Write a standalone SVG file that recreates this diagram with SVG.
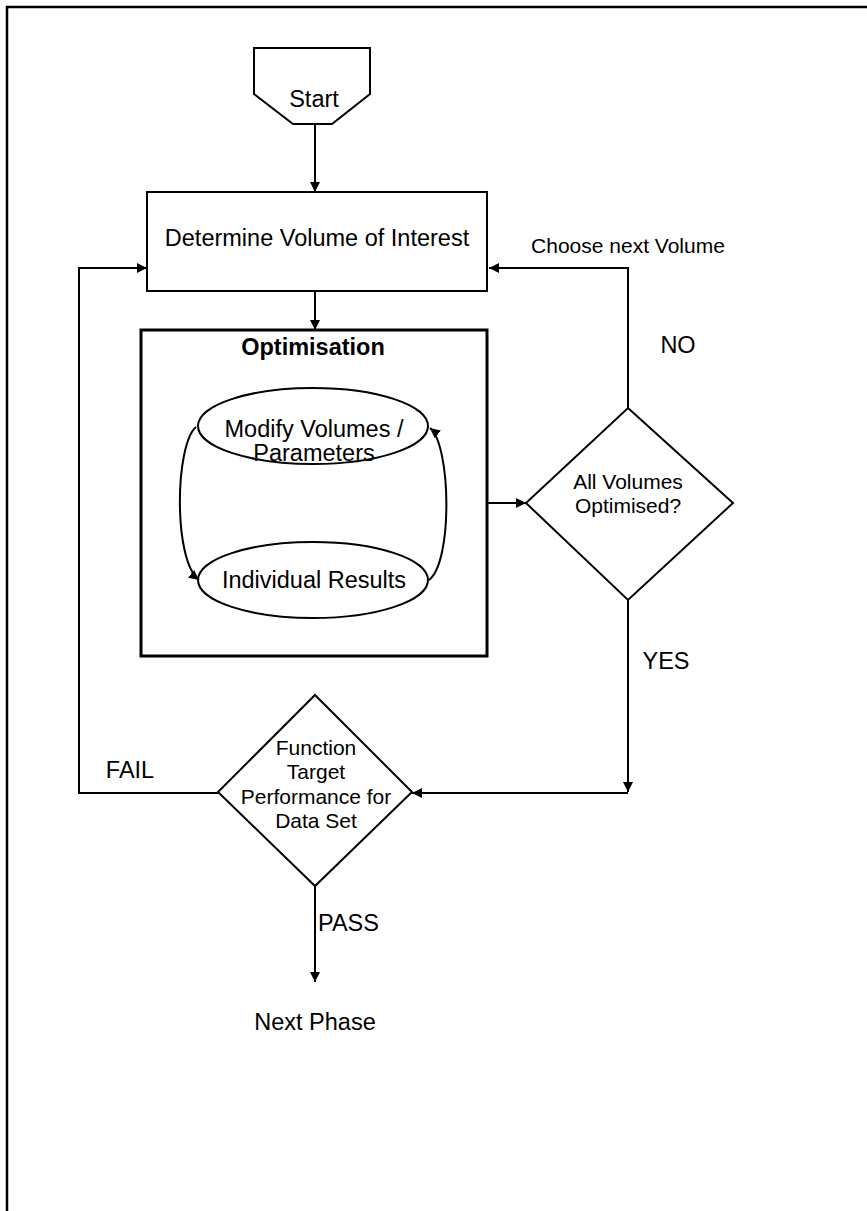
<svg xmlns="http://www.w3.org/2000/svg" width="867" height="1211" viewBox="0 0 867 1211">
<defs>
<marker id="ah" viewBox="0 0 10 10" refX="10" refY="5" markerWidth="10" markerHeight="10" markerUnits="userSpaceOnUse" orient="auto">
<path d="M0,0 L10,5 L0,10 Z" fill="#000"/>
</marker>
</defs>
<style>
.s{fill:#fff;stroke:#000;stroke-width:2}
.c{fill:none;stroke:#000;stroke-width:2;marker-end:url(#ah)}
text{font-family:"Liberation Sans",Arial,sans-serif;fill:#000;text-anchor:middle}
.b{font-size:23.5px}
.m{font-size:21px}
.st{text-anchor:start}
</style>
<rect width="867" height="1211" fill="#fff"/>
<path d="M7,1211 V7 H867" fill="none" stroke="#000" stroke-width="2.5"/>
<g id="start">
<path class="s" d="M254,48 H370 V94 L332,124 H293 L254,94 Z"/>
<text class="b" x="314" y="107">Start</text>
</g>
<g id="determine">
<rect class="s" x="147" y="192" width="340" height="99"/>
<text class="b" x="317" y="246">Determine Volume of Interest</text>
</g>
<g id="optimisation">
<rect x="141" y="330" width="346" height="326" fill="#fff" stroke="#000" stroke-width="3"/>
<text class="b" x="313" y="355" font-weight="bold">Optimisation</text>
</g>
<g id="modify">
<ellipse class="s" cx="313" cy="426" rx="115" ry="38"/>
<text class="b" x="314" y="437">Modify Volumes /</text>
<text class="b" x="314" y="461">Parameters</text>
</g>
<g id="results">
<ellipse class="s" cx="313" cy="580" rx="115" ry="38"/>
<text class="b" x="314" y="588">Individual Results</text>
</g>
<g id="allvolumes">
<path class="s" d="M628,408 L733,503 L628,600 L526,503 Z"/>
<text class="m" x="628" y="489">All Volumes</text>
<text class="m" x="628" y="513">Optimised?</text>
</g>
<g id="function">
<path class="s" d="M315,695 L412,792 L315,886 L218,792 Z"/>
<text class="m" x="316" y="755">Function</text>
<text class="m" x="316" y="779">Target</text>
<text class="m" x="316" y="804">Performance for</text>
<text class="m" x="316" y="828">Data Set</text>
</g>
<g id="nextphase">
<text class="b" x="315" y="1030">Next Phase</text>
</g>
<g id="connectors">
<path class="c" d="M315,124 V192"/>
<path class="c" d="M315,291 V330"/>
<path class="c" d="M196,427 C175,445 173,560 199,580"/>
<path class="c" d="M429,580 C453,562 451,445 430,428"/>
<path class="c" d="M487,503 H526"/>
<path class="c" d="M628,408 V268 H489"/>
<path class="c" d="M628,600 V792"/>
<path class="c" d="M628,793 H412"/>
<path class="c" d="M218,793 H79 V268 H147"/>
<path class="c" d="M315,886 V982"/>
<text class="m" x="628" y="253">Choose next Volume</text>
<text class="b" x="678" y="353">NO</text>
<text class="b" x="666" y="669">YES</text>
<text class="b" x="130" y="778">FAIL</text>
<text class="b st" x="318" y="931">PASS</text>
</g>
</svg>
